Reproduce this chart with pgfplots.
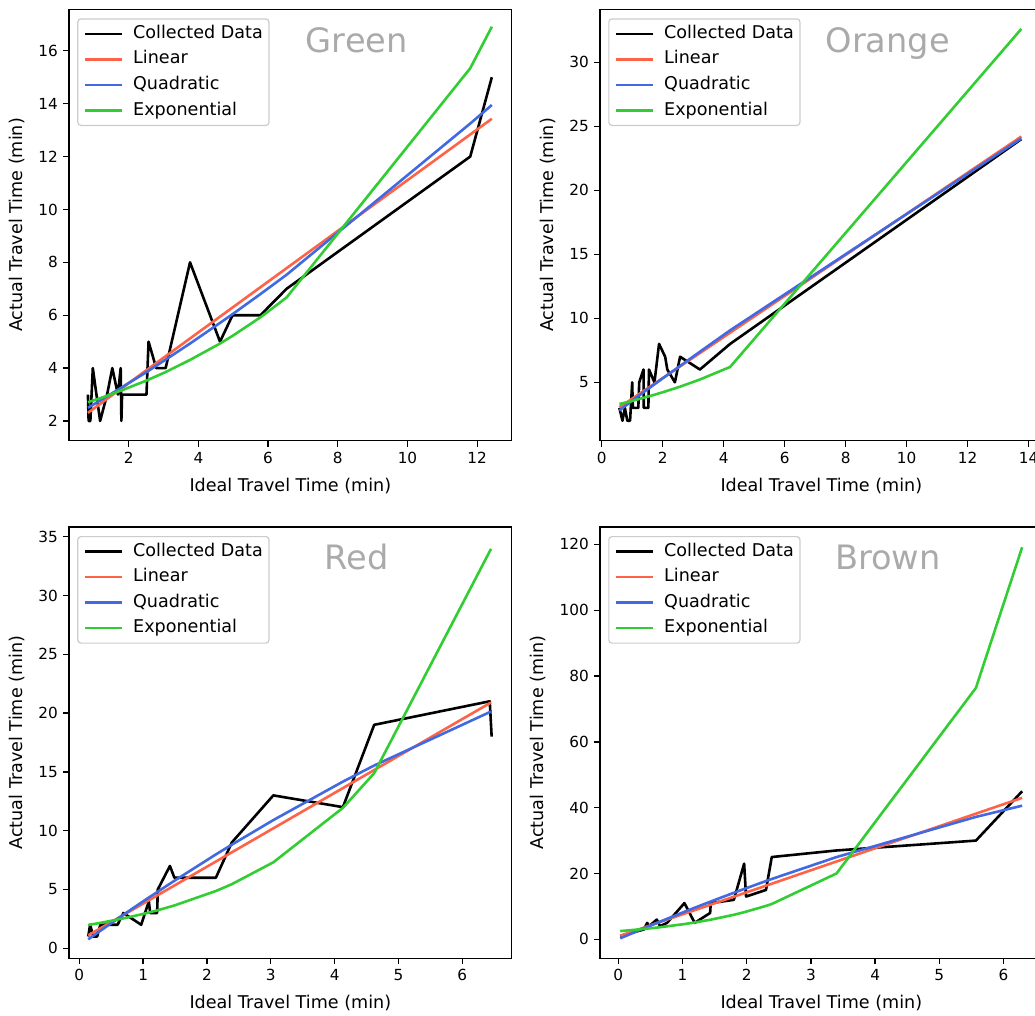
\documentclass[border=0pt]{standalone}
\usepackage{fontspec}
\setmainfont{DejaVu Sans}
\usepackage{pgfplots}
\pgfplotsset{compat=1.18}
\definecolor{cTomato}{HTML}{FF6347}
\definecolor{cRoyal}{HTML}{4169E1}
\definecolor{cLime}{HTML}{32CD32}
\definecolor{cTitle}{HTML}{AAAAAA}
\definecolor{cLegEdge}{HTML}{CCCCCC}
\tikzset{ttl/.style={font=\fontsize{22}{26}\selectfont, text=cTitle, anchor=base}}
\pgfplotsset{
  panel/.style={
    scale only axis, width=289.75pt, height=282.35pt, anchor=south west,
    axis line style={line width=0.9pt, black},
    tick align=outside, major tick length=3.8pt,
    every tick/.style={black, line width=0.9pt},
    xtick pos=bottom, ytick pos=left,
    tick label style={font=\fontsize{10}{12}\selectfont},
    /pgf/number format/assume math mode=true,
    label style={font=\fontsize{11.5}{13.5}\selectfont},
    xlabel={Ideal Travel Time (min)}, ylabel={Actual Travel Time (min)},
    xlabel style={yshift=-2.5pt}, ylabel style={yshift=2pt},
    scaled ticks=false,
    legend cell align=left,
    legend style={at={(axis description cs:0,1)}, anchor=north west,
      xshift=5.4pt, yshift=-5.9pt, draw=cLegEdge, line width=0.8pt,
      fill=white, fill opacity=0.8, text opacity=1, rounded corners=2pt,
      font=\fontsize{11.5}{13.5}\selectfont, inner xsep=4pt, inner ysep=4.1pt,
      row sep=5.3pt, column sep=6.5pt,
      nodes={inner sep=0pt, text height=8.7pt, text depth=2.7pt}},
    legend image code/.code={\draw[##1, line width=1.7pt] (0pt,0pt) -- (24pt,0pt);},
  },
  dat/.style={black, line width=1.7pt, line join=round},
  lin/.style={cTomato, line width=1.7pt, line join=round},
  quad/.style={cRoyal, line width=1.7pt, line join=round},
  expo/.style={cLime, line width=1.7pt, line join=round},
}
\begin{document}
\begin{tikzpicture}
% ---------------- Green ----------------
\begin{axis}[panel, at={(45.16pt,375.88pt)},
  xmin=0.287, xmax=12.99, ymin=1.255, ymax=17.57,
  xtick={2,4,6,8,10,12}, ytick={2,4,6,8,10,12,14,16}]
\addplot[dat] coordinates {(0.83,3)(0.85,2)(0.90,2)(0.97,4)(1.18,2)(1.38,3)(1.53,4)(1.69,3)(1.77,4)(1.79,2)(1.81,3)(2.51,3)(2.57,5)(2.79,4)(3.06,4)(3.76,8)(4.62,5)(4.98,6)(5.78,6)(6.53,7)(11.80,12)(12.42,15)};
\addplot[lin] coordinates {(0.83,2.31)(12.42,13.43)};
\addplot[quad] coordinates {(0.83,2.50)(1.2,2.79)(1.8,3.27)(2.51,3.85)(3.06,4.32)(3.76,4.93)(4.62,5.71)(4.98,6.04)(5.78,6.80)(6.53,7.53)(11.80,13.25)(12.42,13.95)};
\addplot[expo] coordinates {(0.83,2.71)(1.2,2.87)(1.8,3.16)(2.51,3.53)(3.06,3.85)(3.76,4.31)(4.62,4.93)(4.98,5.22)(5.78,5.92)(6.53,6.67)(11.80,15.34)(12.42,16.91)};
\legend{Collected Data, Linear, Quadratic, Exponential}
\node[ttl] at (axis description cs:0.65,0.901) {Green};
\end{axis}
% ---------------- Orange ----------------
\begin{axis}[panel, at={(392.7pt,375.88pt)},
  xmin=-0.056, xmax=14.46, ymin=0.44, ymax=34.14,
  xtick={0,2,4,6,8,10,12,14}, ytick={5,10,15,20,25,30}]
\addplot[dat] coordinates {(0.58,3)(0.68,2)(0.76,3)(0.84,2)(0.93,2)(1.00,5)(1.02,3)(1.20,3)(1.23,5)(1.37,6)(1.38,3)(1.53,3)(1.55,6)(1.73,5)(1.88,8)(2.08,7)(2.15,6)(2.40,5)(2.57,7)(3.22,6)(4.21,8)(13.76,24)};
\addplot[lin] coordinates {(0.58,3.05)(13.76,24.2)};
\addplot[quad] coordinates {(0.58,2.80)(1.0,3.57)(1.5,4.45)(2.0,5.31)(2.57,6.28)(3.22,7.39)(4.21,9.06)(13.76,24.05)};
\addplot[expo] coordinates {(0.58,3.30)(0.68,3.36)(0.93,3.51)(1.0,3.55)(1.2,3.68)(1.37,3.79)(1.55,3.91)(1.73,4.03)(1.88,4.14)(2.08,4.28)(2.15,4.34)(2.40,4.53)(2.57,4.66)(3.22,5.22)(4.21,6.20)(13.76,32.61)};
\legend{Collected Data, Linear, Quadratic, Exponential}
\node[ttl] at (axis description cs:0.65,0.901) {Orange};
\end{axis}
% ---------------- Red ----------------
\begin{axis}[panel, at={(45.16pt,37.05pt)},
  xmin=-0.161, xmax=6.774, ymin=-0.86, ymax=35.82,
  xtick={0,1,2,3,4,5,6}, ytick={0,5,10,15,20,25,30,35}]
\addplot[dat] coordinates {(0.14,1)(0.17,2)(0.22,1)(0.28,1)(0.33,2)(0.60,2)(0.69,3)(0.97,2)(1.09,4)(1.11,3)(1.22,3)(1.23,5)(1.42,7)(1.49,6)(2.14,6)(2.39,9)(3.04,13)(4.13,12)(4.62,19)(6.43,21)(6.46,18)};
\addplot[lin] coordinates {(0.14,1.1)(6.45,20.9)};
\addplot[quad] coordinates {(0.14,0.76)(0.35,1.56)(0.69,2.85)(0.97,3.88)(1.22,4.78)(1.49,5.74)(2.14,7.98)(2.39,8.81)(3.04,10.90)(4.13,14.17)(4.62,15.54)(6.45,20.13)};
\addplot[expo] coordinates {(0.14,1.98)(0.35,2.18)(0.69,2.54)(0.97,2.88)(1.22,3.22)(1.49,3.64)(2.14,4.87)(2.39,5.45)(3.04,7.31)(4.13,11.94)(4.62,14.89)(6.45,33.96)};
\legend{Collected Data, Linear, Quadratic, Exponential}
\node[ttl] at (axis description cs:0.65,0.901) {Red};
\end{axis}
% ---------------- Brown ----------------
\begin{axis}[panel, at={(392.7pt,37.05pt)},
  xmin=-0.285, xmax=6.61, ymin=-5.8, ymax=125.3,
  xtick={0,1,2,3,4,5,6}, ytick={0,20,40,60,80,100,120}]
\addplot[dat] coordinates {(0.03,1)(0.40,3)(0.45,5)(0.48,4)(0.60,6)(0.65,4)(0.76,5)(1.03,11)(1.19,5)(1.43,8)(1.44,11)(1.80,12)(1.96,23)(1.99,13)(2.30,15)(2.39,25)(3.40,27)(5.57,30)(6.29,45)};
\addplot[lin] coordinates {(0.03,1.1)(6.29,43.0)};
\addplot[quad] coordinates {(0.03,0.30)(0.40,3.35)(0.62,5.13)(1.03,8.36)(1.19,9.59)(1.43,11.41)(1.80,14.15)(1.96,15.30)(2.30,17.71)(2.39,18.33)(3.40,25.00)(5.57,37.20)(6.29,40.61)};
\addplot[expo] coordinates {(0.03,2.50)(0.40,3.14)(0.62,3.60)(1.03,4.63)(1.19,5.12)(1.43,5.93)(1.80,7.45)(1.96,8.23)(2.30,10.15)(2.39,10.73)(3.40,20.02)(5.57,76.41)(6.29,119.15)};
\legend{Collected Data, Linear, Quadratic, Exponential}
\node[ttl] at (axis description cs:0.65,0.901) {Brown};
\end{axis}
\pgfresetboundingbox
\path (0pt,0pt) rectangle (677.41pt,664.32pt);
\end{tikzpicture}
\end{document}
